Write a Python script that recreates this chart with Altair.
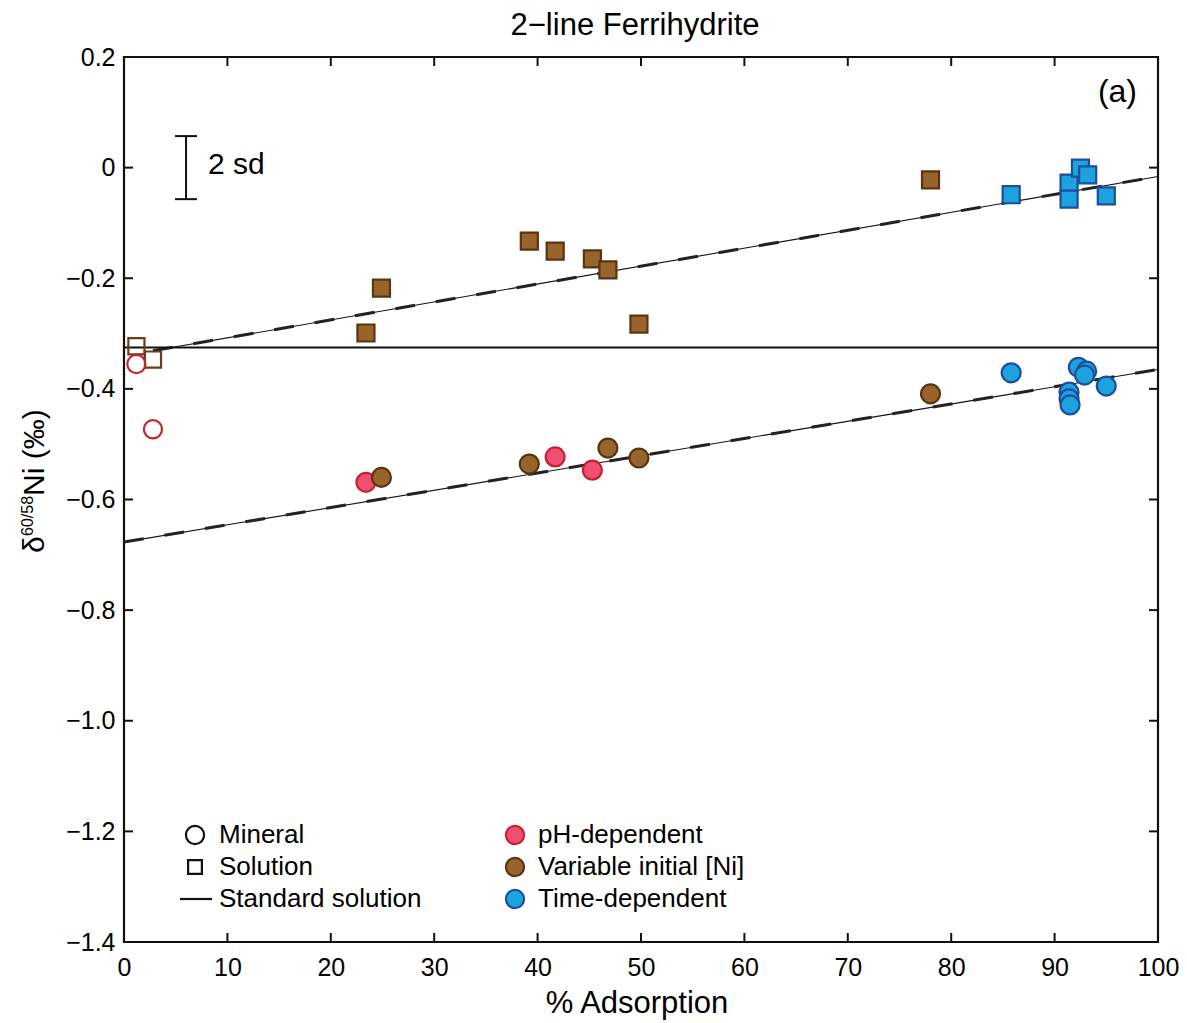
import altair as alt
import pandas as pd

FONT = "Liberation Sans"
W, H = 1034, 885

# ---------------- data ----------------
# open symbols (initial solution / low adsorption)
sol_open_x = [1.2, 2.8]
sol_open_y = [-0.323, -0.347]
min_open_x = [1.2, 2.8]
min_open_y = [-0.355, -0.473]

# solution (squares), variable initial [Ni] + pH series (brown)
sol_brown_x = [23.4, 24.9, 39.2, 41.7, 45.3, 46.8, 49.8, 78.0]
sol_brown_y = [-0.299, -0.218, -0.133, -0.151, -0.165, -0.185, -0.283, -0.022]
# solution (squares), time-dependent (blue)
sol_blue_x = [85.8, 91.4, 91.4, 92.5, 93.2, 95.0]
sol_blue_y = [-0.049, -0.028, -0.057, -0.001, -0.013, -0.051]

# mineral (circles)
min_ph_x = [23.4, 41.7, 45.3]
min_ph_y = [-0.569, -0.523, -0.547]
min_var_x = [24.9, 39.2, 46.8, 49.8, 78.0]
min_var_y = [-0.560, -0.536, -0.507, -0.525, -0.409]
min_time_x = [85.8, 92.3, 93.1, 92.9, 91.4, 91.4, 91.5, 95.0]
min_time_y = [-0.371, -0.361, -0.368, -0.375, -0.406, -0.418, -0.429, -0.395]

# fitted lines (end points) and standard solution
fit_upper_x = [2.8, 100]
fit_upper_y = [-0.331, -0.016]
fit_lower_x = [0, 100]
fit_lower_y = [-0.677, -0.365]
std_y = -0.325

# 2 sd bar
sd_x = 6.0
sd_half = 0.057

xticks = [0, 10, 20, 30, 40, 50, 60, 70, 80, 90, 100]
yticks = [0.2, 0.0, -0.2, -0.4, -0.6, -0.8, -1.0, -1.2, -1.4]

# ---------------- styles ----------------
PINK_F, PINK_S = "#EE4F72", "#C4222E"
BROWN_F, BROWN_S = "#97652B", "#5C3410"
BLUE_F, BLUE_S = "#1CA3DE", "#1D4E9E"
OPEN_C = "#C0272D"
OPEN_S = "#6B3D16"

xs = alt.Scale(domain=[0, 100], nice=False, zero=False)
ys = alt.Scale(domain=[-1.4, 0.2], nice=False, zero=False)

x_axis = alt.Axis(values=xticks, ticks=False, tickSize=0, domain=False, grid=False,
                  labelFont=FONT, labelFontSize=25, labelColor="black",
                  labelPadding=13, title=None, labelFlush=False, labelOverlap=False)
y_axis = alt.Axis(values=yticks, ticks=False, tickSize=0, domain=False, grid=False,
                  labelFont=FONT, labelFontSize=25, labelColor="black",
                  labelPadding=9, title=None, labelFlush=False, labelOverlap=False,
                  labelExpr="datum.value == 0 ? '0' : replace(format(datum.value, '.1f'), '-', '\u2212')")


def XE(f="x"):
    return alt.X(f"{f}:Q", scale=xs, axis=x_axis)


def YE(f="y"):
    return alt.Y(f"{f}:Q", scale=ys, axis=y_axis)


def df(x, y):
    return pd.DataFrame({"x": x, "y": y})


def pts(x, y, shape, size, fill, stroke, filled=True):
    return alt.Chart(df(x, y)).mark_point(
        shape=shape, size=size, filled=filled,
        fill=fill if filled else None, stroke=stroke, strokeWidth=2.2, opacity=1,
        fillOpacity=1 if filled else 0
    ).encode(x=XE(), y=YE())


# fitted lines
fit_df = pd.concat([
    pd.DataFrame({"x": fit_upper_x, "y": fit_upper_y, "line": "upper"}),
    pd.DataFrame({"x": fit_lower_x, "y": fit_lower_y, "line": "lower"}),
])
fit_thin = alt.Chart(fit_df).mark_line(color="#111", strokeWidth=1.1).encode(
    x=XE(), y=YE(), detail="line:N")
fit_dash = alt.Chart(fit_df).mark_line(color="#222", strokeWidth=3, strokeDash=[20, 21]).encode(
    x=XE(), y=YE(), detail="line:N")

std_rule = alt.Chart(pd.DataFrame({"y": [std_y]})).mark_rule(color="#111", strokeWidth=2).encode(
    y=YE(), x=alt.value(0), x2=alt.value(W))

# inward ticks on all four sides
xt = pd.DataFrame({"v": xticks})
yt = pd.DataFrame({"v": yticks})
tick_b = alt.Chart(xt).mark_rule(color="#111", strokeWidth=2).encode(
    x=XE("v"), y=alt.value(H), y2=alt.value(H - 9))
tick_t = alt.Chart(xt).mark_rule(color="#111", strokeWidth=2).encode(
    x=XE("v"), y=alt.value(0), y2=alt.value(9))
tick_l = alt.Chart(yt).mark_rule(color="#111", strokeWidth=2).encode(
    y=YE("v"), x=alt.value(0), x2=alt.value(9))
tick_r = alt.Chart(yt).mark_rule(color="#111", strokeWidth=2).encode(
    y=YE("v"), x=alt.value(W), x2=alt.value(W - 9))

# 2 sd bar
sd_df = pd.DataFrame({"x": [sd_x], "y": [sd_half], "y2": [-sd_half]})
sd_bar = alt.Chart(sd_df).mark_rule(color="#111", strokeWidth=2).encode(
    x=XE(), y=YE(), y2="y2:Q")
sd_caps = alt.Chart(pd.DataFrame({"y": [sd_half, -sd_half]})).mark_rule(color="#111", strokeWidth=2).encode(
    y=YE(), x=alt.value(51), x2=alt.value(73))


def txt(t, x, y, size, align="left", baseline="middle", angle=None):
    kw = dict(font=FONT, fontSize=size, align=align, baseline=baseline, color="black")
    if angle is not None:
        kw["angle"] = angle
    return alt.Chart(pd.DataFrame({"t": [t]})).mark_text(**kw).encode(
        text="t:N", x=alt.value(x), y=alt.value(y))


texts = [
    txt("2\u2212line Ferrihydrite", 511, -22, 31, align="center", baseline="alphabetic"),
    txt("% Adsorption", 513, 956, 31, align="center", baseline="alphabetic"),
    txt("2 sd", 84, 108, 30),
    txt("(a)", 1013, 35, 32, align="right"),
    # y-axis title pieces (rotated)
    txt("\u03b4", -80, 496, 30, baseline="alphabetic", angle=270),
    txt("60/58", -91, 479, 16, baseline="alphabetic", angle=270),
    txt("Ni (\u2030)", -80, 439, 30, baseline="alphabetic", angle=270),
    # legend texts
    txt("Mineral", 95, 778, 26),
    txt("Solution", 95, 810, 26),
    txt("Standard solution", 95, 842, 26),
    txt("pH-dependent", 414, 778, 26),
    txt("Variable initial [Ni]", 414, 810, 26),
    txt("Time-dependent", 414, 842, 26),
]


def leg_pt(x, y, shape, size, fill, stroke, filled=True):
    return alt.Chart(pd.DataFrame({"a": [0]})).mark_point(
        shape=shape, size=size, filled=filled, fill=fill if filled else None,
        stroke=stroke, strokeWidth=2.2, opacity=1, fillOpacity=1 if filled else 0
    ).encode(x=alt.value(x), y=alt.value(y))


legend = [
    leg_pt(71, 778, "circle", 330, None, "#111", filled=False),
    leg_pt(71, 810, "square", 190, None, "#111", filled=False),
    alt.Chart(pd.DataFrame({"a": [0]})).mark_rule(color="#111", strokeWidth=2.2).encode(
        x=alt.value(56), x2=alt.value(88), y=alt.value(842)),
    leg_pt(391, 778, "circle", 330, PINK_F, PINK_S),
    leg_pt(391, 810, "circle", 330, BROWN_F, BROWN_S),
    leg_pt(391, 842, "circle", 330, BLUE_F, BLUE_S),
]

points = [
    pts(sol_open_x, sol_open_y, "square", 260, None, OPEN_S, filled=False),
    pts(min_open_x, min_open_y, "circle", 330, None, OPEN_C, filled=False),
    pts(sol_brown_x, sol_brown_y, "square", 290, BROWN_F, BROWN_S),
    pts(sol_blue_x, sol_blue_y, "square", 290, BLUE_F, BLUE_S),
    pts(min_ph_x, min_ph_y, "circle", 360, PINK_F, PINK_S),
    pts(min_var_x, min_var_y, "circle", 360, BROWN_F, BROWN_S),
    pts(min_time_x, min_time_y, "circle", 360, BLUE_F, BLUE_S),
]

chart = alt.layer(
    fit_thin, fit_dash, std_rule, tick_b, tick_t, tick_l, tick_r, sd_bar, sd_caps,
    *points, *legend, *texts
).properties(
    width=W, height=H,
    autosize=alt.AutoSizeParams(type="none"),
    padding={"left": 124, "top": 57, "right": 29, "bottom": 81},
).configure_view(stroke="#111", strokeWidth=2.2)

chart.save("out.html", embed_options={"renderer": "svg", "actions": False})
